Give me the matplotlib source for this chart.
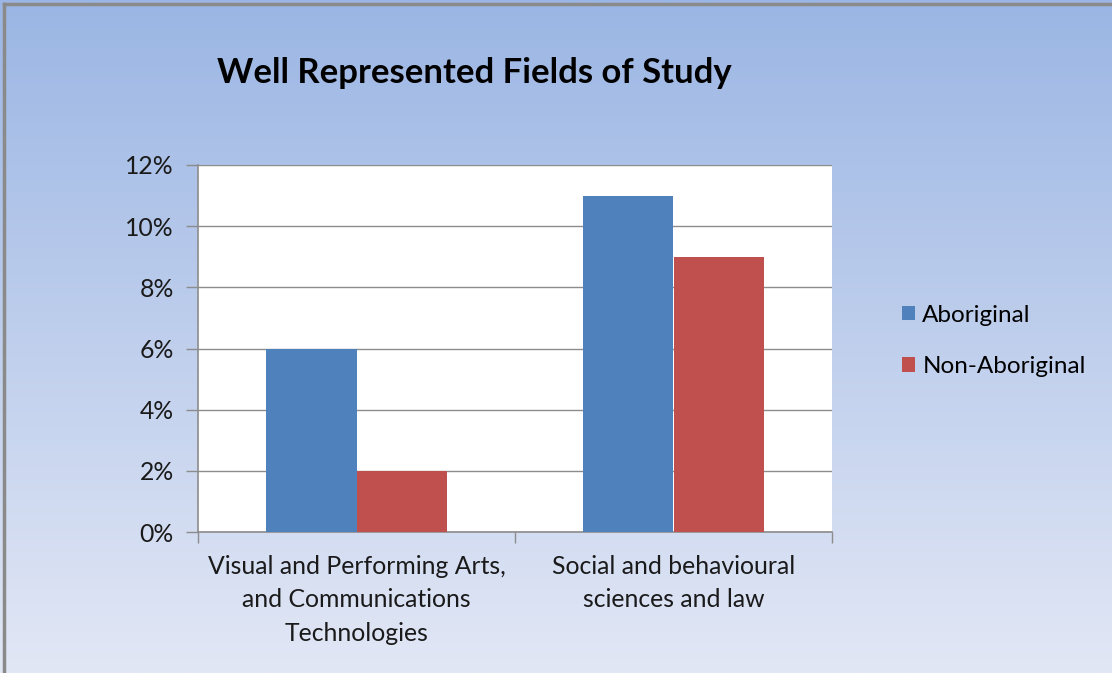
import numpy as np
import matplotlib
matplotlib.use("Agg")
import matplotlib.pyplot as plt

categories = ["Visual and Performing Arts,\nand Communications\nTechnologies",
              "Social and behavioural\nsciences and law"]
aboriginal = [6, 11]
non_aboriginal = [2, 9]
series_names = ["Aboriginal", "Non-Aboriginal"]
colors = ["#4F81BD", "#C0504D"]
yticks = [0, 2, 4, 6, 8, 10, 12]
title = "Well Represented Fields of Study"

W, H = 1112, 673
fig = plt.figure(figsize=(W / 100, H / 100), dpi=100)
plt.rcParams['font.family'] = ['Lato', 'DejaVu Sans']

# gradient background
bg = fig.add_axes([0, 0, 1, 1], zorder=-10)
top = np.array([155, 182, 228]) / 255
bot = np.array([226, 231, 245]) / 255
t = np.linspace(0, 1, 256)[:, None]
grad = top[None, :] * (1 - t) + bot[None, :] * t
bg.imshow(grad[:, None, :], aspect='auto', extent=[0, 1, 0, 1])
bg.set_xlim(0, 1); bg.set_ylim(0, 1)
bg.axis('off')
bg.plot([4 / W, 4 / W], [0, 1 - 4 / H], color="#8A8A8A", lw=2.5)
bg.plot([4 / W, 1], [1 - 4 / H, 1 - 4 / H], color="#8A8A8A", lw=2.5)

left, right, topp, bottom = 198, 832, 165, 532
ax = fig.add_axes([left / W, 1 - bottom / H, (right - left) / W, (bottom - topp) / H])
ax.set_facecolor("white")

x = np.arange(len(categories))
bw = 0.287
ax.bar(x - bw / 2, aboriginal, bw, color=colors[0], label=series_names[0], zorder=3)
ax.bar(x + bw / 2, non_aboriginal, bw, color=colors[1], label=series_names[1], zorder=3)

ax.set_xlim(-0.5, 1.5)
ax.set_ylim(0, 12)
ax.set_yticks(yticks)
ax.set_yticklabels([f"{v}%" for v in yticks], fontsize=17.8, color="#1a1a1a")
ax.yaxis.grid(True, color="#8C8C8C", lw=1, zorder=0)
ax.set_axisbelow(True)
ax.tick_params(axis='y', length=9, width=1, color="#8C8C8C", pad=8.5)

ax.set_xticks([-0.5, 0.5, 1.5])
ax.set_xticklabels([])
ax.tick_params(axis='x', length=8, width=1, color="#8C8C8C")
for xi, lab in zip(x, categories):
    ax.text(xi, -0.75, lab, ha='center', va='top', fontsize=17.8, color="#1a1a1a",
            linespacing=1.55)

for s in ["top", "right"]:
    ax.spines[s].set_visible(False)
for s in ["left", "bottom"]:
    ax.spines[s].set_color("#8C8C8C")
    ax.spines[s].set_linewidth(1.2)

fig.text(474 / W, 1 - 73 / H, title, ha='center', va='center', fontsize=24.9,
         fontweight='bold', color="black")

leg = fig.legend(loc='center left', bbox_to_anchor=(880 / W, 1 - 341 / H),
                 frameon=False, fontsize=17.5, handlelength=0.54, handleheight=0.54,
                 handletextpad=0.3, labelspacing=1.25)

fig.savefig("out.png", dpi=100)
